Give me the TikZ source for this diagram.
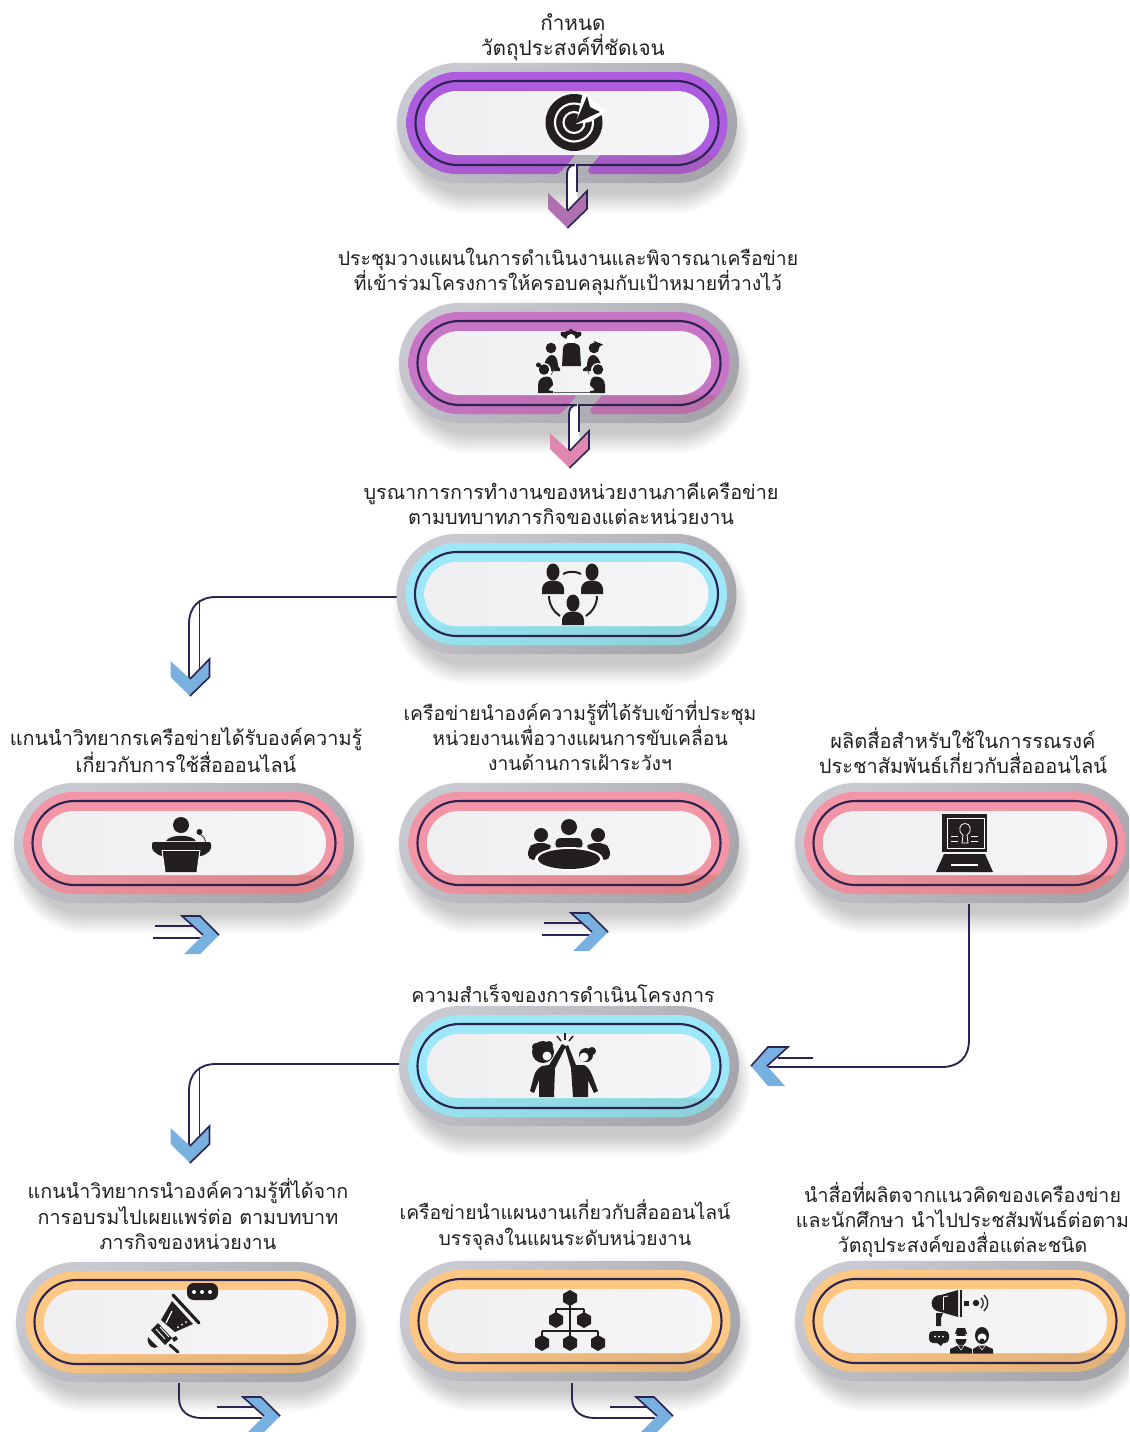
\documentclass[tikz,border=0pt]{standalone}
\usepackage{fontspec}
\setmainfont{Liberation Sans}
\newfontfamily\thaifont[Script=Thai]{Loma}
\usetikzlibrary{fadings}
\tikzfading[name=leftglow,left color=transparent!15,middle color=transparent!100,right color=transparent!100]
\definecolor{ink}{HTML}{231F20}
\definecolor{navy}{HTML}{2B2350}
\definecolor{gapgray}{HTML}{B0AFB6}
\definecolor{arrowblue}{HTML}{78B0E0}
\definecolor{purpleA}{HTML}{AD5CE0}\definecolor{purpleB}{HTML}{A55CBC}
\definecolor{magentaA}{HTML}{C875C8}\definecolor{magentaB}{HTML}{B86FA4}
\definecolor{cyanA}{HTML}{9CE8F8}\definecolor{cyanB}{HTML}{8AD0D8}
\definecolor{pinkA}{HTML}{F295A6}\definecolor{pinkB}{HTML}{DC8486}
\definecolor{orangeA}{HTML}{FFC784}\definecolor{orangeB}{HTML}{DEB078}
\definecolor{chevpurple}{HTML}{AE70AE}\definecolor{chevpink}{HTML}{E087B0}
\newcommand{\mkring}[3]{\pgfdeclareverticalshading{#1}{100bp}{color(0bp)=(#3); color(34bp)=(#3); color(35bp)=(#2); color(100bp)=(#2)}}
\mkring{ringpurple}{purpleA}{purpleB}
\mkring{ringmagenta}{magentaA}{magentaB}
\mkring{ringcyan}{cyanA}{cyanB}
\mkring{ringpink}{pinkA}{pinkB}
\mkring{ringorange}{orangeA}{orangeB}
\definecolor{C9}{HTML}{C9C9D1}\definecolor{A6}{HTML}{A6A5AC}
\definecolor{EF}{HTML}{EFEFF1}\definecolor{F6}{HTML}{F6F6F8}
\tikzset{
 x=0.75pt,y=-0.75pt,
 pillbase/.style={rectangle,inner sep=0pt,outer sep=0pt},
 pillouter/.style={pillbase,minimum width=255pt,minimum height=90pt,rounded corners=45pt,
   top color=C9,bottom color=A6,shading angle=35},
 pillring/.style={pillbase,minimum width=240.75pt,minimum height=76.5pt,rounded corners=38.25pt,shading=#1},
 pillglow/.style={pillbase,minimum width=240.75pt,minimum height=76.5pt,rounded corners=38.25pt,fill=#1,path fading=leftglow},
 pillline/.style={pillbase,minimum width=227.25pt,minimum height=63pt,rounded corners=31.5pt,draw=navy,line width=1.6pt},
 pillwhite/.style={pillbase,minimum width=213pt,minimum height=48pt,rounded corners=24pt,left color=EF,right color=F6},
 caption/.style={align=center,inner sep=0pt,font=\thaifont\fontsize{#1}{19}\selectfont,text=ink},
 conn/.style={draw=navy,line width=1.4pt},
}
\newcommand{\pill}[5]{%
 \foreach \k in {0,...,17}{
  \pgfmathsetmacro\w{(340+16-2*\k)*0.75}\pgfmathsetmacro\h{(120+34-2.4*\k)*0.75}
  \node[pillbase,fill=black,opacity=0.011,minimum width=\w pt,minimum height=\h pt,rounded corners=0.5*\h pt] at (#2+4,#3+14) {};
 }
 \node[pillouter] (#1) at (#2,#3) {};
 \node[pillring=#4] (#1r) at (#2,#3) {};
 \node[pillglow=#5] (#1g) at (#2,#3) {};
 \node[pillline] (#1l) at (#2,#3) {};
 \node[pillwhite] (#1w) at (#2,#3) {};
}
\newcommand{\notch}[2]{%
 \begin{scope}[shift={(#1,#2)}]
  \fill[gapgray] (-16,51.5) .. controls (-7,51.5) and (-5,49) .. (8,32) -- (33,32) -- (22,45) .. controls (20,48) and (22,51.5) .. (26,51.5) -- cycle;
  \fill[white] (7,41) .. controls (2,41) and (0,46) .. (0,52) -- (0,88) -- (10,80) -- (10,41) -- cycle;
  \draw[navy,line width=1.4pt] (-5,42) -- (8,42);
  \draw[navy,line width=1.4pt] (10,69) -- (10,42) -- (30,42);
  \draw[navy,line width=1.4pt] (8,42) .. controls (2,42) and (0,46) .. (0,52) -- (0,88);
 \end{scope}
}
\newcommand{\chevdown}[3]{%
 \begin{scope}[shift={(#1,#2)}]
  \fill[#3] (-19.5,-35) -- (0,-17) -- (19.5,-37) -- (19.5,-19) -- (0,0) -- (-19.5,-19) -- cycle;
  \draw[navy,line width=1.2pt,line join=miter] (0,-17) -- (19.5,-37) -- (19.5,-19) -- (0,0);
 \end{scope}
}
\newcommand{\chevright}[2]{%
 \begin{scope}[shift={(#1,#2)}]
  \fill[arrowblue] (-37,-19) -- (-19,-19) -- (0,0) -- (-19,19) -- (-35,19) -- (-16,0) -- cycle;
  \draw[navy,line width=1.2pt] (-16,0) -- (-37,-19) -- (-19,-19) -- (0,0);
 \end{scope}
}
\begin{document}
\begin{tikzpicture}
\useasboundingbox (0,0) rectangle (1129,1432);
\clip (0,0) rectangle (1129,1432);
\fill[white] (0,0) rectangle (1129,1432);
% ---------- pills
\pill{p1}{567}{123}{ringpurple}{purpleA}
\pill{p2}{569}{363}{ringmagenta}{magentaA}
\pill{p3}{566.5}{594}{ringcyan}{cyanA}
\pill{p4}{184}{843}{ringpink}{pinkA}
\pill{p5}{569}{843}{ringpink}{pinkA}
\pill{p6}{965}{843}{ringpink}{pinkA}
\pill{p7}{569}{1066}{ringcyan}{cyanA}
\pill{p8}{186}{1322}{ringorange}{orangeA}
\pill{p9}{570}{1321}{ringorange}{orangeA}
\pill{p10}{965}{1321}{ringorange}{orangeA}
\notch{567}{123}
\notch{569}{363}
% ---------- connector ends
\chevdown{567.5}{228}{chevpurple}
\chevdown{569.5}{468}{chevpink}
% p3 -> p4
\coordinate (e3) at (189,680);
\coordinate (e3b) at (199.5,672);
\draw[conn] (p3.west |- 0,597) -- (216,597) .. controls (199,597) and (189,607) .. (189,624) -- (e3);
\draw[conn] (199.5,600) -- (e3b);
\chevdown{190}{696}{arrowblue}
% p7 -> p8
\coordinate (e7) at (189,1147);
\coordinate (e7b) at (199.5,1139);
\draw[conn] (p7.west |- 0,1064) -- (216,1064) .. controls (199,1064) and (189,1074) .. (189,1091) -- (e7);
\draw[conn] (199.5,1067) -- (e7b);
\chevdown{190}{1163}{arrowblue}
% p4 -> p5, p5 -> p6
\coordinate (e4a) at (198,926);\coordinate (e4b) at (203,938);
\draw[conn] (155,926) -- (e4a);\draw[conn] (153,938) -- (e4b);
\chevright{219}{935}
\coordinate (e5a) at (587,923);\coordinate (e5b) at (592,935);
\draw[conn] (544,923) -- (e5a);\draw[conn] (542,935) -- (e5b);
\chevright{608}{932}
% p6 -> p7
\coordinate (s6) at (969,904);\coordinate (e6) at (767,1067);\coordinate (e6b) at (778,1058);
\draw[conn] (s6) -- (969,1040) .. controls (969,1058) and (958,1067) .. (942,1067) -- (e6);
\draw[conn] (813,1058) -- (e6b);
\begin{scope}[shift={(751,1066)}]
 \fill[arrowblue] (17,-19) -- (37,-19) -- (16,0) -- (34,20) -- (17,20) -- (0,0) -- cycle;
 \draw[navy,line width=1.2pt] (0,0) -- (17,-19) -- (37,-19) -- (16,0);
\end{scope}
% p8 -> p9, p9 -> p10
\coordinate (s8) at (179,1383);\coordinate (e8) at (262,1418);\coordinate (e8b) at (258,1407);
\draw[conn] (s8) -- (179,1398) .. controls (179,1411) and (188,1418) .. (202,1418) -- (e8);
\draw[conn] (217,1407) -- (e8b);
\chevright{280}{1416}
\coordinate (s9) at (572,1383);\coordinate (e9) at (655,1418);\coordinate (e9b) at (651,1407);
\draw[conn] (s9) -- (572,1398) .. controls (572,1411) and (581,1418) .. (595,1418) -- (e9);
\draw[conn] (610,1407) -- (e9b);
\chevright{673}{1416}
% ---------- captions
\node[caption=15.5] (t1) at (573,37.5) {กำหนด\\วัตถุประสงค์ที่ชัดเจน};
\node[caption=14.56] (t2) at (568,272) {ประชุมวางแผนในการดำเนินงานและพิจารณาเครือข่าย\\ที่เข้าร่วมโครงการให้ครอบคลุมกับเป้าหมายที่วางไว้};
\node[caption=14.9] (t3) at (571,503.5) {บูรณาการการทำงานของหน่วยงานภาคีเครือข่าย\\ตามบทบาทภารกิจของแต่ละหน่วยงาน};
\node[caption=14.9] (t4) at (186,750) {แกนนำวิทยากรเครือข่ายได้รับองค์ความรู้\\เกี่ยวกับการใช้สื่อออนไลน์};
\node[caption=14.5] (t5) at (580,735.5) {เครือข่ายนำองค์ความรู้ที่ได้รับเข้าที่ประชุม\\หน่วยงานเพื่อวางแผนการขับเคลื่อน\\งานด้านการเฝ้าระวังฯ};
\node[caption=15] (t6) at (963,750.5) {ผลิตสื่อสำหรับใช้ในการรณรงค์\\ประชาสัมพันธ์เกี่ยวกับสื่อออนไลน์};
\node[caption=14.75] (t7) at (563,993) {ความสำเร็จของการดำเนินโครงการ};
\node[caption=14.8] (t8) at (188,1214) {แกนนำวิทยากรนำองค์ความรู้ที่ได้จาก\\การอบรมไปเผยแพร่ต่อ ตามบทบาท\\ภารกิจของหน่วยงาน};
\node[caption=14.5] (t9) at (565,1225) {เครือข่ายนำแผนงานเกี่ยวกับสื่อออนไลน์\\บรรจุลงในแผนระดับหน่วยงาน};
\node[caption=14.7] (t10) at (962.5,1220) {นำสื่อที่ผลิตจากแนวคิดของเครืองข่าย\\และนักศึกษา นำไปประชสัมพันธ์ต่อตาม\\วัตถุประสงค์ของสื่อแต่ละชนิด};
% ---------- icon 1 target
\fill[ink] (574,122.5) circle (28.5);
\draw[white,line width=1.6pt] (574,122.5) circle (19);
\draw[white,line width=1.6pt] (574,122.5) circle (10.5);
\fill[white] (583,92) -- (606,112) -- (590,122) -- (576,124) -- cycle;
\fill[ink] (587,96) -- (590,107) -- (600,112) -- (589,117) -- (575,124) -- (582,108) -- cycle;
% ---------- icon 2 meeting
\fill[ink] (571,335) ellipse (9 and 4.5);
\fill[ink] (563,334) circle (2.5);\fill[ink] (579,334) circle (2.5);\fill[ink] (571,331.5) circle (2.5);
\fill[white] (571,338.5) circle (4.5);
\fill[ink] (562,366) -- (563,349) .. controls (563,345) and (566,343.5) .. (568,343) -- (574,343) .. controls (577,343.5) and (580,345) .. (580,349) -- (581,366) -- cycle;
\fill[ink] (551,348) circle (5.3);
\fill[ink] (594,348) circle (5.3);\fill[ink] (603,344.5) -- (594,341) -- (596,349) -- cycle;
\fill[ink] (544,368) .. controls (544,359) and (549,355) .. (552,355) .. controls (556,355) and (558,360) .. (558,366) -- (560,369) -- (560,371) -- (546,371) -- cycle;
\fill[ink] (601,368) .. controls (601,359) and (596,355) .. (593,355) .. controls (589,355) and (587,360) .. (587,366) -- (583,369) -- (583,371) -- (599,371) -- cycle;
\fill[white] (544,370) circle (7);\fill[white] (598,370) circle (7);
\fill[ink] (544,369.5) circle (5.3);\fill[ink] (598,369.5) circle (5.3);
\fill[ink] (538.5,365) circle (2.5);
\fill[ink] (538,393) -- (538,385) .. controls (538,379) and (543,376.5) .. (547,376.5) .. controls (551,376.5) and (553,380) .. (553,385) -- (549,389) -- (549,390.5) -- (553,391) -- (553,393) -- cycle;
\fill[ink] (605,393) -- (605,385) .. controls (605,379) and (600,376.5) .. (596,376.5) .. controls (592,376.5) and (590,380) .. (590,385) -- (594,389) -- (594,390.5) -- (590,391) -- (590,393) -- cycle;
\draw[ink!70,line width=0.8pt] (554,392.5) -- (590,392.5);
\draw[ink!80,line width=0.5pt] (551,375) -- (554,369);\draw[ink!80,line width=0.5pt] (589,374) -- (587,369);
% ---------- icon 3 team
\foreach \a/\b in {553/572,592/572,573/603}{
 \fill[ink] (\a,\b) ellipse (6.5 and 8.5);
 \fill[ink] (\a-11,\b+22) -- (\a-11,\b+17) .. controls (\a-10,\b+10) and (\a-5,\b+8.5) .. (\a,\b+8.5) .. controls (\a+5,\b+8.5) and (\a+10,\b+10) .. (\a+11,\b+17) -- (\a+11,\b+22) -- cycle;
}
\draw[ink,line width=1.5pt] (563,574) .. controls (568,571) and (576,571) .. (581,574);
\draw[ink,line width=1.5pt] (549,596) .. controls (549,605) and (554,612) .. (560,616);
\draw[ink,line width=1.5pt] (597,596) .. controls (597,605) and (592,612) .. (586,616);
% ---------- icon 4 podium
\fill[ink] (181,825) circle (8);
\fill[ink] (166,841) .. controls (170,834) and (192,834) .. (196,841) -- cycle;
\fill[ink,rounded corners=1.5pt] (152,842) -- (211,842) -- (211,850) -- (203,856) -- (160,856) -- (152,850) -- cycle;
\fill[ink] (162,850) -- (200,850) -- (197,872) -- (165,872) -- cycle;
\draw[white,line width=0.7pt] (162,850) -- (200,850);\draw[white,line width=0.7pt] (162,850) -- (165,872);\draw[white,line width=0.7pt] (200,850) -- (197,872);
\fill[ink] (199.5,832) circle (3);
\draw[ink,line width=0.6pt] (200,834) .. controls (203,836) and (205,838) .. (205.5,842);
% ---------- icon 5 table
\fill[ink] (569,827) circle (8);\fill[ink] (541,835) circle (7);\fill[ink] (598,835) circle (7);
\fill[ink,rounded corners=3pt] (555,848) -- (556,838) -- (582,838) -- (583,848) -- cycle;
\fill[ink,rounded corners=4pt] (528,860) -- (528,848) -- (534,843) -- (548,843) -- (553,848) -- (540,853) -- (538,860) -- cycle;
\fill[ink,rounded corners=4pt] (610,860) -- (610,848) -- (604,843) -- (590,843) -- (585,848) -- (598,853) -- (600,860) -- cycle;
\fill[white] (569,859) ellipse (34 and 12);
\fill[ink] (569,859) ellipse (31 and 10);
% ---------- icon 6 laptop
\fill[ink] (942,814) rectangle (987,852);
\draw[white,line width=0.6pt] (947,818) rectangle (984,848);
\draw[white,line width=0.6pt] (962,843) -- (968,843) -- (967,835) .. controls (973,831) and (970,823) .. (965,823.5) .. controls (960,823) and (957,831) .. (963,835) -- cycle;
\draw[white,line width=0.5pt] (951,836) -- (958,836);\draw[white,line width=0.5pt] (971,836) -- (978,836);
\draw[white,line width=0.5pt] (951,841) -- (958,841);\draw[white,line width=0.5pt] (971,841) -- (978,841);
\fill[ink] (944,854) -- (985,854) -- (993,872) -- (936,872) -- cycle;
\draw[white,line width=0.8pt] (951,865) -- (978,865);
% ---------- icon 7 high five
\fill[ink] (543,1052) circle (11);\fill[ink] (536,1047) circle (4);\fill[ink] (549,1045) circle (4);
\fill[white] (547,1056) circle (4.5);
\fill[ink] (539,1097) -- (554,1097) -- (555,1068) -- (566,1046) -- (562,1044) -- (549,1065) -- (542,1066) .. controls (538,1068) and (535,1072) .. (534,1076) -- (530,1091) -- (534,1093) -- (539,1080) -- cycle;
\fill[ink] (586,1055) circle (7);\fill[ink] (592,1051) circle (4);\fill[white] (584,1057) circle (4.5);
\fill[ink] (573,1097) -- (588,1097) -- (588,1080) -- (594,1093) -- (598,1091) -- (592,1075) .. controls (590,1070) and (587,1066) .. (584,1065) -- (576,1065) -- (568,1045) -- (565,1047) -- (571,1068) -- cycle;
\draw[ink,line width=1.1pt] (565,1033) -- (565,1040);\draw[ink,line width=1.1pt] (557,1036) -- (561,1041);\draw[ink,line width=1.1pt] (573,1036) -- (569,1041);
% ---------- icon 8 megaphone
\fill[ink,rounded corners=5pt] (187,1283) rectangle (218,1300);
\fill[white] (194,1292) circle (2);\fill[white] (202,1292) circle (2);\fill[white] (210,1292) circle (2);
\draw[ink,line width=2.4pt,line cap=round] (173,1295) -- (199,1323);
\fill[ink] (172,1301) -- (193,1324) -- (175,1332) -- (161,1320) -- cycle;
\draw[white,line width=0.9pt] (172,1311) -- (166,1323);
\fill[white] (178,1327) circle (1);\fill[white] (182,1324.5) circle (1);\fill[white] (186,1322) circle (1);
\fill[ink] (158,1323) -- (172,1338) -- (165,1345) -- (151,1330) -- cycle;
\draw[white,line width=0.7pt] (156,1329) -- (165,1339);\draw[white,line width=0.7pt] (160,1327) -- (169,1337);
\fill[ink] (148,1337) -- (158,1347) .. controls (153,1350) and (146,1345) .. (148,1337) -- cycle;
\draw[ink,line width=2.2pt,line cap=round] (170,1345) -- (178,1352);
\fill[ink] (172,1338) -- (176,1336) -- (178,1339) -- (174,1342) -- cycle;
% ---------- icon 9 org chart
\foreach \a/\b in {570/1298,556/1320,584/1320,542/1343,570/1343,598/1343}{
 \fill[ink] (\a,\b-8) -- (\a+7,\b-4) -- (\a+7,\b+4) -- (\a,\b+8) -- (\a-7,\b+4) -- (\a-7,\b-4) -- cycle;
}
\draw[ink,line width=0.8pt] (570,1298) -- (570,1343);
\draw[ink,line width=0.8pt] (556,1309) -- (584,1309);
\draw[ink,line width=0.8pt] (556,1309) -- (556,1320);\draw[ink,line width=0.8pt] (584,1309) -- (584,1320);
\draw[ink,line width=0.8pt] (542,1331) -- (598,1331);
\draw[ink,line width=0.8pt] (542,1331) -- (542,1343);\draw[ink,line width=0.8pt] (598,1331) -- (598,1343);
% ---------- icon 10 media
\fill[ink] (941,1295) .. controls (930,1294) and (927,1311) .. (941,1312) -- cycle;
\fill[ink] (941,1295) -- (958,1290) -- (958,1317) -- (941,1312) -- cycle;
\draw[white,line width=0.6pt] (943,1297) -- (943,1310);\draw[white,line width=0.6pt] (943,1297) -- (948,1296);
\draw[ink,line width=1.6pt] (961,1290) -- (961,1317);
\fill[ink] (936,1313) -- (943,1313) -- (941,1318) -- (941,1326) -- (936,1326) -- cycle;
\fill[ink] (964,1300.5) rectangle (969,1306);
\fill[ink] (976,1303) circle (3.2);
\draw[ink,line width=0.9pt] (981,1298) .. controls (984,1301) and (984,1305) .. (981,1308);
\draw[ink,line width=1pt] (984,1295) .. controls (989,1300) and (989,1306) .. (984,1311);
\fill[ink,rounded corners=3pt] (929,1331) rectangle (949,1343);
\fill[ink] (936,1342) -- (944,1342) -- (941,1346) -- cycle;
\fill[white] (935,1336.5) circle (1);\fill[white] (939,1336.5) circle (1);\fill[white] (943,1336.5) circle (1);
\fill[ink] (955,1334) -- (967,1334) -- (965,1328) -- (957,1328) -- cycle;
\fill[ink] (961,1339) ellipse (5.5 and 6.5);
\fill[white] (955,1335.5) rectangle (967,1339);
\fill[ink] (950,1353.5) -- (950,1349) -- (958,1345.5) -- (964,1345.5) -- (972,1349) -- (972,1353.5) -- cycle;
\draw[white,line width=0.4pt] (958,1346) -- (961,1350) -- (964,1346);
\fill[ink] (982,1335.5) ellipse (7 and 8.5);
\fill[white] (982,1337.5) ellipse (4.5 and 4);\fill[ink] (982,1341) circle (2.5);
\fill[ink] (973,1353.5) -- (973,1349) -- (979,1345.5) -- (985,1345.5) -- (993,1349) -- (993,1353.5) -- cycle;
\draw[white,line width=0.4pt] (979,1346) -- (982,1350) -- (985,1346);
\end{tikzpicture}
\end{document}
